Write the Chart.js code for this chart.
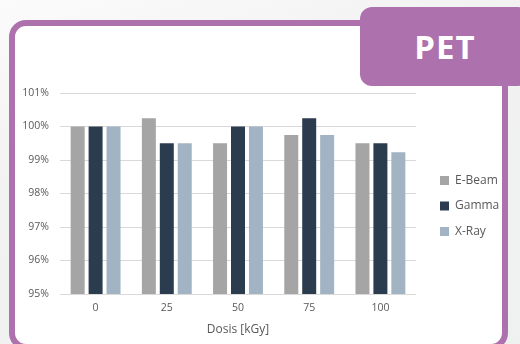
<!DOCTYPE html>
<html>
<head>
<meta charset="utf-8">
<script src="https://cdn.jsdelivr.net/npm/chart.js@4/dist/chart.umd.min.js"></script>
<style>
  html, body { margin: 0; padding: 0; }
  body {
    width: 520px; height: 344px; overflow: hidden; position: relative;
    background: linear-gradient(160deg, #fbfbfb 0%, #f2f2f2 35%, #eff0f0 100%);
    font-family: "Open Sans", sans-serif;
  }
  .frame {
    position: absolute; left: 9px; top: 20px; width: 487px; height: 318px;
    border: 6px solid #ad72ad; border-radius: 17px; background: #fff;
  }
  .tab {
    position: absolute; left: 360px; top: 7px; width: 170px; height: 79px;
    background: #ad72ad; border-radius: 12px;
    color: #fff; font-weight: 700; font-size: 33px; line-height: 79px;
    text-align: center; letter-spacing: 1px;
  }
  .wrap { position: absolute; left: 0; top: 0; width: 520px; height: 344px; }
</style>
</head>
<body>
<div class="frame"></div>
<div class="tab">PET</div>
<div class="wrap"><canvas id="chart"></canvas></div>
<script>
// dose steps (kGy) and relative values per sterilisation method, in %
const dosis = ['0', '25', '50', '75', '100'];
const eBeam = [100, 100.25, 99.5, 99.75, 99.5];
const gamma = [100, 99.5, 100, 100.25, 99.5];
const xRay = [100, 99.5, 100, 99.75, 99.23];
const yMin = 95, yMax = 101, yStep = 1;

const textColor = '#595959';
const gridColor = '#d9d9d9';

new Chart(document.getElementById('chart'), {
  type: 'bar',
  data: {
    labels: dosis,
    datasets: [
      { label: 'E-Beam', data: eBeam, backgroundColor: '#a5a5a5' },
      { label: 'Gamma', data: gamma, backgroundColor: '#2c3c4f' },
      { label: 'X-Ray', data: xRay, backgroundColor: '#a2b3c3' }
    ]
  },
  options: {
    responsive: true,
    maintainAspectRatio: false,
    animation: false,
    categoryPercentage: 0.756,
    barPercentage: 0.78,
    layout: { padding: { top: 93, left: 14, right: 11, bottom: 7 } },
    plugins: {
      tooltip: { enabled: false },
      legend: {
        position: 'right',
        fullSize: false,
        align: 'center',
        // empty title only pushes the items down a bit
        title: { display: true, text: '', font: { size: 12 }, padding: { top: 10.6, bottom: 0 } },
        labels: {
          boxWidth: 9,
          boxHeight: 9,
          padding: 13.5,
          color: textColor,
          font: { family: 'Open Sans', size: 12 }
        }
      }
    },
    scales: {
      x: {
        grid: { display: false, drawTicks: false },
        border: { display: false },
        ticks: { color: textColor, padding: 8, font: { family: 'Open Sans', size: 10.5 } },
        title: {
          display: true,
          text: 'Dosis [kGy]',
          color: textColor,
          font: { family: 'Open Sans', size: 12 },
          padding: { top: 0, bottom: 0 }
        }
      },
      y: {
        min: yMin,
        max: yMax,
        grid: { color: gridColor, lineWidth: 1, drawTicks: false },
        border: { display: false },
        ticks: {
          stepSize: yStep,
          padding: 11,
          color: textColor,
          font: { family: 'Open Sans', size: 10.5 },
          callback: v => v + '%'
        },
        afterFit: s => { s.width = 46; }
      },
      // spacer between the plot and the legend
      gap: {
        type: 'linear',
        position: 'right',
        grid: { display: false },
        border: { display: false },
        ticks: { display: false },
        afterFit: s => { s.width = 10.5; }
      }
    }
  }
});
</script>
</body>
</html>
